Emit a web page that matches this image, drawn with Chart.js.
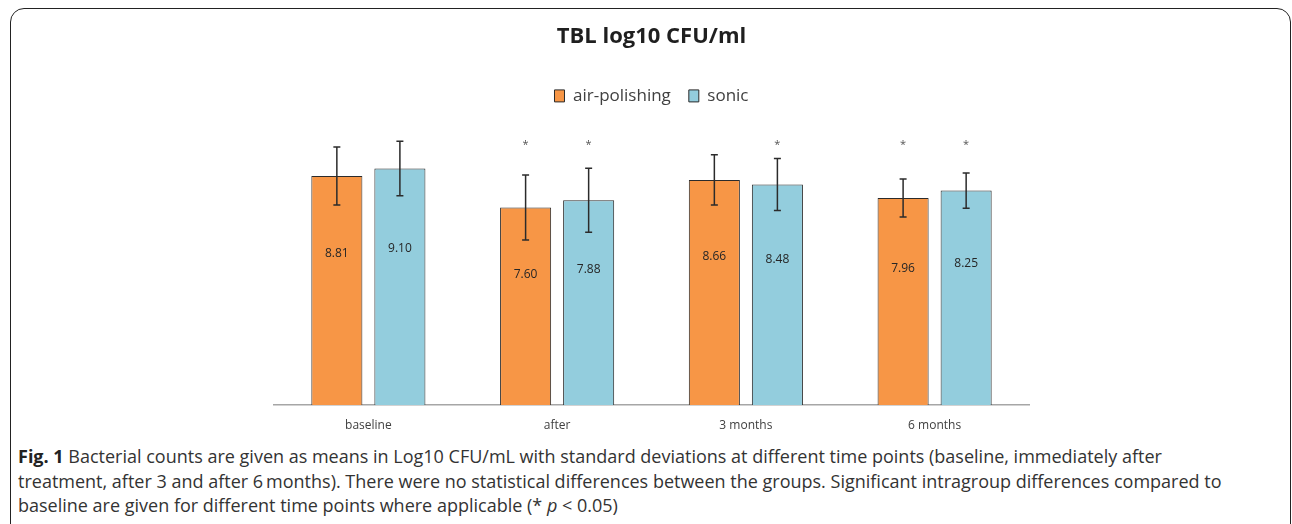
<!DOCTYPE html>
<html lang="en">
  <head>
    <meta charset="UTF-8" />
    <title>TBL log10 CFU/ml</title>
    <script src="https://cdn.jsdelivr.net/npm/chart.js@4.4.0/dist/chart.umd.min.js"></script>
    <style>
      body {
        margin: 0;
        background: #fff;
        font-family: 'Open Sans', sans-serif;
      }
      .frame {
        position: absolute;
        left: 10px;
        top: 8px;
        width: 1281px;
        height: 700px;
        box-sizing: border-box;
        border: 1.5px solid #222;
        border-radius: 14px;
      }
      .chart-box {
        position: absolute;
        left: 0;
        top: 0;
        width: 1292px;
        height: 440px;
      }
      .caption {
        position: absolute;
        left: 18px;
        top: 444px;
        font-size: 18px;
        line-height: 24.5px;
        color: #333;
        white-space: nowrap;
      }
      .caption b {
        color: #222;
      }
    </style>
  </head>
  <body>
    <div class="frame"></div>
    <div class="chart-box">
      <canvas id="tblChart"></canvas>
    </div>
    <div class="caption">
      <b>Fig. 1</b> Bacterial counts are given as means in Log10 CFU/mL with standard deviations at different time points (baseline, immediately after<br />
      treatment, after 3 and after 6&#8201;months). There were no statistical differences between the groups. Significant intragroup differences compared to<br />
      baseline are given for different time points where applicable (* <i>p</i> &lt; 0.05)
    </div>

    <script>
      const categories = ['baseline', 'after', '3 months', '6 months'];
      const airPolishing = [8.81, 7.6, 8.66, 7.96];
      const sonic = [9.1, 7.88, 8.48, 8.25];
      const airPolishingSD = [1.12, 1.25, 0.97, 0.73];
      const sonicSD = [1.05, 1.23, 1.0, 0.68];
      // * p < 0.05 vs baseline
      const airPolishingSig = [false, true, false, true];
      const sonicSig = [false, true, true, true];

      const sdList = [airPolishingSD, sonicSD];
      const sigList = [airPolishingSig, sonicSig];

      // error bars, value labels and stars
      const barExtras = {
        id: 'barExtras',
        afterDatasetsDraw(chart) {
          const ctx = chart.ctx;
          const y = chart.scales.y;
          ctx.save();
          chart.data.datasets.forEach((ds, di) => {
            const meta = chart.getDatasetMeta(di);
            meta.data.forEach((bar, i) => {
              const v = ds.data[i];
              const sd = sdList[di][i];
              const top = y.getPixelForValue(v + sd);
              const bot = y.getPixelForValue(v - sd);
              ctx.strokeStyle = '#2b2b2b';
              ctx.lineWidth = 1.5;
              ctx.beginPath();
              ctx.moveTo(bar.x, top);
              ctx.lineTo(bar.x, bot);
              ctx.moveTo(bar.x - 3.5, top);
              ctx.lineTo(bar.x + 3.5, top);
              ctx.moveTo(bar.x - 3.5, bot);
              ctx.lineTo(bar.x + 3.5, bot);
              ctx.stroke();

              ctx.fillStyle = '#262626';
              ctx.font = '12px "Open Sans"';
              ctx.textAlign = 'center';
              ctx.textBaseline = 'middle';
              ctx.fillText(v.toFixed(2), bar.x, y.getPixelForValue(v * 0.66));

              if (sigList[di][i]) {
                ctx.fillStyle = '#555';
                ctx.font = '11px "Open Sans"';
                ctx.fillText('*', bar.x, y.getPixelForValue(10.1) + 2);
              }
            });
          });
          ctx.restore();
        },
      };

      new Chart(document.getElementById('tblChart'), {
        type: 'bar',
        data: {
          labels: categories,
          datasets: [
            {
              label: 'air-polishing',
              data: airPolishing,
              backgroundColor: '#f79646',
              borderColor: '#2b2b2b',
              borderWidth: 1,
            },
            {
              label: 'sonic',
              data: sonic,
              backgroundColor: '#93cddd',
              borderColor: '#2b2b2b',
              borderWidth: 1,
            },
          ],
        },
        options: {
          responsive: true,
          maintainAspectRatio: false,
          animation: false,
          datasets: {
            bar: {
              categoryPercentage: 0.668,
              barPercentage: 0.81,
            },
          },
          layout: {
            padding: { left: 274, right: 263, top: 0, bottom: 0 },
          },
          plugins: {
            title: {
              display: true,
              text: 'TBL log10 CFU/ml',
              color: '#1f1f1f',
              font: { family: 'Open Sans', size: 22, weight: 'bold' },
              padding: { top: 24, bottom: 19 },
            },
            legend: {
              display: true,
              labels: {
                boxWidth: 10,
                boxHeight: 12,
                padding: 18,
                color: '#404040',
                font: { family: 'Open Sans', size: 17 },
              },
            },
            tooltip: { enabled: false },
          },
          scales: {
            x: {
              grid: { display: false },
              border: { display: true, color: '#a6a6a6', width: 1.5 },
              ticks: {
                color: '#404040',
                padding: 5,
                font: { family: 'Open Sans', size: 12 },
              },
              afterFit(scale) {
                scale.height = 35;
              },
            },
            y: {
              display: false,
              min: 0,
              max: 11.18,
            },
          },
        },
        plugins: [barExtras],
      });
    </script>
  </body>
</html>
